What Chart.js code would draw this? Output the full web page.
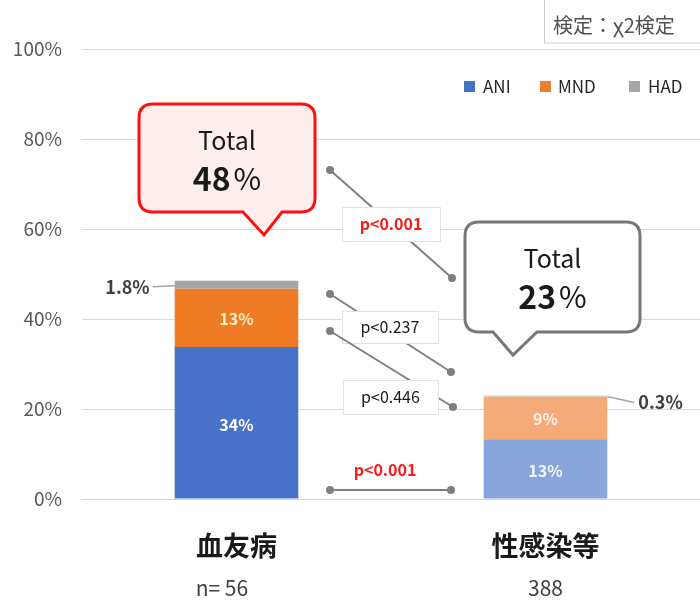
<!DOCTYPE html>
<html lang="ja">
<head>
  <meta charset="utf-8">
  <title>血友病 vs 性感染等</title>
  <script src="https://cdn.jsdelivr.net/npm/chart.js@4.4.0/dist/chart.umd.min.js"></script>
  <style>
    html, body { margin: 0; padding: 0; background: #fff; }
    #wrap { width: 700px; height: 600px; position: relative; }
  </style>
</head>
<body>
<div id="wrap"><canvas id="myChart" width="700" height="600"></canvas></div>
<script>
// data
const categories = ['血友病', '性感染等'];
const sampleSizes = [56, 388];
const aniValues = [33.8, 13.3];
const mndValues = [12.9, 9.4];
const hadValues = [1.8, 0.3];
const totalValues = [48, 23];
const yTicks = [0, 20, 40, 60, 80, 100];
const pValues = ['p<0.001', 'p<0.237', 'p<0.446', 'p<0.001'];
const testLabel = '検定：χ2検定';

const FONT = "'Noto Sans CJK JP', 'Noto Sans', sans-serif";

// colours per bar (second group drawn paler)
const aniColors = ['#4673c8', '#88a6dc'];
const mndColors = ['#ef7b25', '#f4ab78'];
const hadColors = ['#a5a5a5', '#cfcfcf'];

function callout(ctx, b) {
  // rounded box with a little tail at the bottom
  const r = 14;
  ctx.beginPath();
  ctx.moveTo(b.x1 + r, b.y1);
  ctx.lineTo(b.x2 - r, b.y1);
  ctx.quadraticCurveTo(b.x2, b.y1, b.x2, b.y1 + r);
  ctx.lineTo(b.x2, b.y2 - r);
  ctx.quadraticCurveTo(b.x2, b.y2, b.x2 - r, b.y2);
  ctx.lineTo(b.tailR, b.y2);
  ctx.lineTo(b.tipX, b.tipY);
  ctx.lineTo(b.tailL, b.y2);
  ctx.lineTo(b.x1 + r, b.y2);
  ctx.quadraticCurveTo(b.x1, b.y2, b.x1, b.y2 - r);
  ctx.lineTo(b.x1, b.y1 + r);
  ctx.quadraticCurveTo(b.x1, b.y1, b.x1 + r, b.y1);
  ctx.closePath();
  ctx.fillStyle = b.fill;
  ctx.fill();
  ctx.lineWidth = 3;
  ctx.strokeStyle = b.stroke;
  ctx.stroke();

  const cx = (b.x1 + b.x2) / 2;
  ctx.fillStyle = '#1a1a1a';
  ctx.textAlign = 'center';
  ctx.textBaseline = 'middle';
  ctx.font = '25px ' + FONT;
  ctx.fillText('Total', cx, b.y1 + 36);
  // number bold, percent sign regular
  ctx.font = 'bold 32px ' + FONT;
  const num = String(b.value);
  const wn = ctx.measureText(num).width;
  ctx.font = '30px ' + FONT;
  const wp = ctx.measureText('%').width;
  const sx = cx - (wn + wp + 3) / 2;
  ctx.textAlign = 'left';
  ctx.font = 'bold 32px ' + FONT;
  ctx.fillText(num, sx, b.y1 + 75);
  ctx.font = '30px ' + FONT;
  ctx.fillText('%', sx + wn + 3, b.y1 + 75);
}

const annotations = {
  id: 'annotations',
  afterDatasetsDraw(chart) {
    const ctx = chart.ctx;
    const x = chart.scales.x;
    ctx.save();
    ctx.textBaseline = 'middle';
    ctx.textAlign = 'center';

    // values inside the bars
    const aniMeta = chart.getDatasetMeta(0);
    const mndMeta = chart.getDatasetMeta(1);
    const hadMeta = chart.getDatasetMeta(2);
    ctx.font = 'bold 16px ' + FONT;
    aniMeta.data.forEach((el, i) => {
      ctx.fillStyle = i === 0 ? '#ffffff' : 'rgba(255,255,255,0.9)';
      ctx.fillText(Math.round(aniValues[i]) + '%', el.x, (el.y + el.base) / 2 + 2);
    });
    mndMeta.data.forEach((el, i) => {
      ctx.fillStyle = i === 0 ? '#fff0c8' : 'rgba(255,255,255,0.85)';
      ctx.fillText(Math.round(mndValues[i]) + '%', el.x, (el.y + el.base) / 2 + 1);
    });

    // small HAD values with leader lines
    ctx.font = 'bold 18px ' + FONT;
    ctx.fillStyle = '#404040';
    ctx.strokeStyle = '#a6a6a6';
    ctx.lineWidth = 1.5;
    const h0 = hadMeta.data[0];
    const h0mid = (h0.y + h0.base) / 2 + 1;
    const h0left = h0.x - h0.width / 2;
    ctx.textAlign = 'right';
    ctx.fillText(hadValues[0] + '%', h0left - 25, h0mid + 1);
    ctx.beginPath();
    ctx.moveTo(h0left - 22, h0mid + 1);
    ctx.lineTo(h0left, h0mid);
    ctx.stroke();

    const h1 = hadMeta.data[1];
    const h1right = h1.x + h1.width / 2;
    ctx.textAlign = 'left';
    ctx.fillText(hadValues[1] + '%', h1right + 31, h1.y + 7);
    ctx.beginPath();
    ctx.moveTo(h1right, h1.y + 1);
    ctx.lineTo(h1right + 27, h1.y + 7);
    ctx.stroke();

    // p-value connectors
    const links = [
      { a: [330, 170], b: [452, 278], box: [342, 207, 98, 34], bold: true },
      { a: [330, 294], b: [451, 372], box: [342, 311, 96, 32], bold: false },
      { a: [330, 331], b: [453, 407], box: [343, 380, 95, 34], bold: false },
      { a: [330, 490], b: [451, 490], box: null, label: [385, 470], bold: true }
    ];
    links.forEach((l, i) => {
      ctx.strokeStyle = '#7f7f7f';
      ctx.lineWidth = 2;
      ctx.beginPath();
      ctx.moveTo(l.a[0], l.a[1]);
      ctx.lineTo(l.b[0], l.b[1]);
      ctx.stroke();
      ctx.fillStyle = '#7f7f7f';
      [l.a, l.b].forEach(p => {
        ctx.beginPath();
        ctx.arc(p[0], p[1], 4, 0, Math.PI * 2);
        ctx.fill();
      });
      let tx, ty;
      if (l.box) {
        ctx.fillStyle = '#ffffff';
        ctx.fillRect(l.box[0], l.box[1], l.box[2], l.box[3]);
        ctx.strokeStyle = '#e3e3e3';
        ctx.lineWidth = 1;
        ctx.strokeRect(l.box[0] + 0.5, l.box[1] + 0.5, l.box[2], l.box[3]);
        tx = l.box[0] + l.box[2] / 2;
        ty = l.box[1] + l.box[3] / 2;
      } else {
        tx = l.label[0];
        ty = l.label[1];
      }
      ctx.textAlign = 'center';
      ctx.font = (l.bold ? 'bold ' : '') + '16px ' + FONT;
      ctx.fillStyle = l.bold ? '#ff1a1a' : '#1a1a1a';
      ctx.fillText(pValues[i], tx, ty);
    });

    // callouts with totals
    callout(ctx, { x1: 139, y1: 104, x2: 315, y2: 212, tailL: 243, tailR: 282,
      tipX: 264, tipY: 235, stroke: '#ff1010', fill: '#fdeeee', value: totalValues[0] });
    callout(ctx, { x1: 465, y1: 222, x2: 640, y2: 332, tailL: 493, tailR: 537,
      tipX: 513, tipY: 355, stroke: '#777777', fill: '#ffffff', value: totalValues[1] });

    // legend
    const legend = [['ANI', '#4472c4', 464, 483], ['MND', '#ed7d31', 540, 558], ['HAD', '#a5a5a5', 629, 648]];
    ctx.font = '17px ' + FONT;
    ctx.textAlign = 'left';
    legend.forEach(it => {
      ctx.fillStyle = it[1];
      ctx.fillRect(it[2], 81, 11, 11);
      ctx.fillStyle = '#262626';
      ctx.fillText(it[0], it[3], 87);
    });

    // test method box
    ctx.fillStyle = '#ffffff';
    ctx.fillRect(544, 0, 160, 43);
    ctx.strokeStyle = '#d0d0d0';
    ctx.lineWidth = 1;
    ctx.strokeRect(544.5, -2, 170, 45);
    ctx.font = '20px ' + FONT;
    ctx.fillStyle = '#505050';
    ctx.fillText(testLabel, 553, 25);

    // category labels and n
    ctx.textAlign = 'center';
    categories.forEach((c, i) => {
      const cx = x.getPixelForValue(i);
      ctx.font = 'bold 27px ' + FONT;
      ctx.fillStyle = '#1a1a1a';
      ctx.fillText(c, cx, 546);
      ctx.font = '21px ' + FONT;
      ctx.fillStyle = '#404040';
      ctx.fillText(String(sampleSizes[i]), cx, 588);
      if (i === 0) {
        const w = ctx.measureText(String(sampleSizes[i])).width;
        ctx.textAlign = 'right';
        ctx.fillText('n= ', cx - w / 2, 588);
        ctx.textAlign = 'center';
      }
    });
    ctx.restore();
  }
};

const ctx = document.getElementById('myChart').getContext('2d');
const chart = new Chart(ctx, {
  type: 'bar',
  data: {
    labels: categories,
    datasets: [
      { label: 'ANI', data: aniValues, backgroundColor: aniColors },
      { label: 'MND', data: mndValues, backgroundColor: mndColors },
      { label: 'HAD', data: hadValues, backgroundColor: hadColors }
    ]
  },
  options: {
    responsive: false,
    animation: false,
    categoryPercentage: 0.8,
    barPercentage: 0.5,
    layout: { padding: { top: 49, bottom: 101, left: 0, right: 0 } },
    plugins: { legend: { display: false }, tooltip: { enabled: false } },
    scales: {
      x: { stacked: true, display: false },
      y: {
        stacked: true,
        min: 0,
        max: 100,
        afterFit(scale) { scale.width = 82; },
        afterBuildTicks(scale) { scale.ticks = yTicks.map(v => ({ value: v })); },
        border: { display: false },
        grid: { color: '#d9d9d9', drawTicks: false, lineWidth: 1 },
        ticks: {
          padding: 20,
          color: '#595959',
          font: { family: FONT, size: 19 },
          callback: v => v + '%'
        }
      }
    }
  },
  plugins: [annotations]
});
</script>
</body>
</html>
